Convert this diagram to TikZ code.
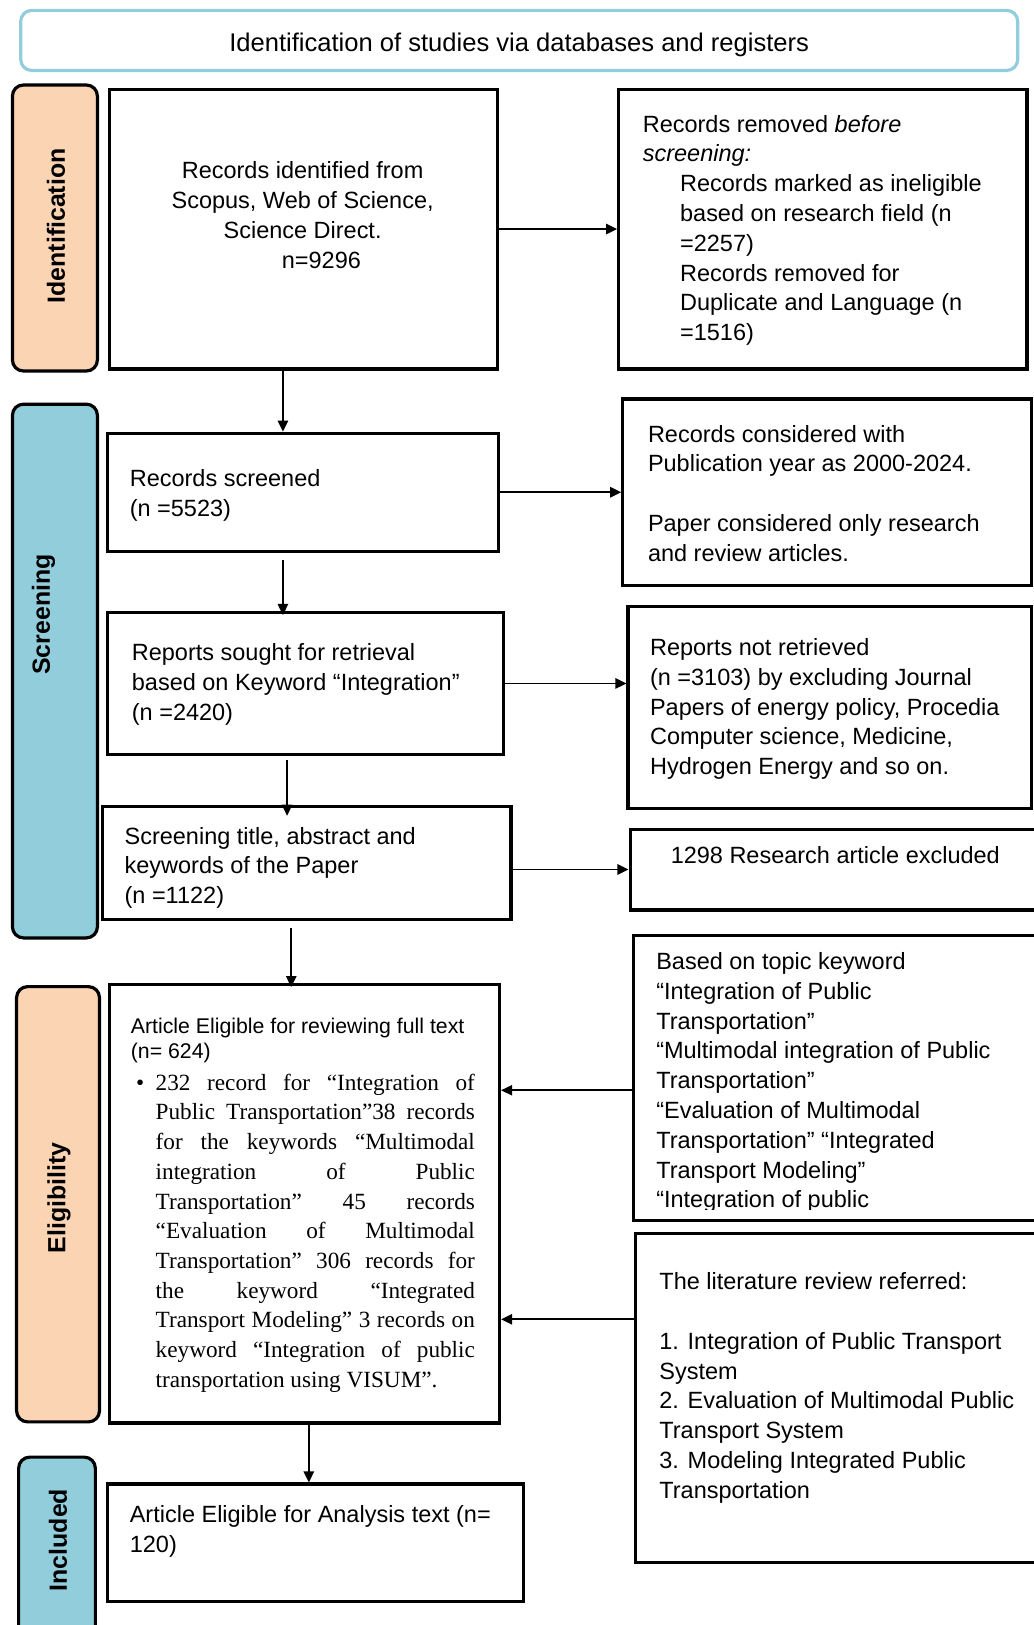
\documentclass[tikz,border=0pt]{standalone}
\usepackage{fontspec}
\setmainfont{Liberation Sans}
\newfontfamily\tnr{Liberation Serif}
\usetikzlibrary{fit,arrows.meta,calc}
\definecolor{peach}{HTML}{FBD4B4}
\definecolor{aqua}{HTML}{92CDDC}
\newcommand{\tb}[2][300pt]{\parbox[t]{#1}{\raggedright #2}}
\begin{document}
\begin{tikzpicture}[x=0.75pt,y=-0.75pt,
 box/.style={draw=black,line width=2.3pt,inner sep=0pt},
 phase/.style={draw=black,line width=2.3pt,rounded corners=8pt,inner sep=0pt},
 txt/.style={inner sep=0pt,anchor=base west,font=\fontsize{17}{21.56}\selectfont},
 ptxt/.style={inner sep=0pt,rotate=90,font=\bfseries\fontsize{18}{20}\selectfont},
 arr/.style={-{Triangle[length=8pt,width=7.5pt]},line width=1.2pt}]

\useasboundingbox (0,0) rectangle (997,1568);

% title
\node[draw=aqua,line width=2.3pt,rounded corners=8pt,inner sep=0pt,fit={(20,10)(982,68)}] (T) {};
\node[inner sep=0pt,anchor=base,font=\fontsize{18.5}{20}\selectfont] (Tt) at (501,50) {Identification of studies via databases and registers};

% phase labels
\node[phase,fill=peach,fit={(12,82)(94,358)}] (P1) {};
\node[ptxt] (P1t) at (54,218) {Identification};
\node[phase,fill=aqua,fit={(12,390)(94,905)}] (P2) {};
\node[ptxt] (P2t) at (42,593) {Screening};
\node[phase,fill=peach,fit={(16,952)(96,1372)}] (P3) {};
\node[ptxt] (P3t) at (57,1156) {Eligibility};
\node[phase,fill=aqua,fit={(18,1406)(92,1580)}] (P4) {};
\node[ptxt] (P4t) at (56,1486) {Included};

% boxes
\node[box,fit={(106,86)(480,356)}] (A) {};
\node[box,fit={(597,86)(991,356)}] (B) {};
\node[box,fit={(104,418)(481,532)}] (C) {};
\node[box,fit={(601,385)(995,565)}] (D) {};
\node[box,fit={(104,591)(486,728)}] (E) {};
\node[box,fit={(606,585)(995,780)}] (F) {};
\node[box,fit={(99,778)(493,887)}] (G) {};
\node[box,fit={(608,800)(1010,878)}] (H) {};
\node[box,fit={(106,950)(482,1373)}] (J) {};
\node[box,fit={(611,903)(1010,1178)}] (K) {};
\node[box,fit={(613,1190)(1010,1508)}] (L) {};
\node[box,fit={(104,1432)(505,1545)}] (M) {};

% texts
\node[txt,anchor=base] (At) at (292,172.5) {\parbox[t]{300pt}{\centering Records identified from\\Scopus, Web of Science,\\Science Direct.\\\hspace*{1.6em}n=9296}};
\node[txt] (Bt) at (620,127.5) {\tb{Records removed \textit{before}\\\textit{screening:}\\\hspace*{27pt}Records marked as ineligible\\\hspace*{27pt}based on research field (n\\\hspace*{27pt}=2257)\\\hspace*{27pt}Records removed for\\\hspace*{27pt}Duplicate and Language (n\\\hspace*{27pt}=1516)}};
\node[txt] (Ct) at (125,469.5) {\tb{Records screened\\(n =5523)}};
\node[txt] (Dt) at (625,426.5) {\tb{Records considered with\\Publication year as 2000-2024.\\[21.56pt]Paper considered only research\\and review articles.}};
\node[txt] (Et) at (127,637.5) {\tb{Reports sought for retrieval\\based on Keyword “Integration”\\(n =2420)}};
\node[txt] (Ft) at (627,632.5) {\tb{Reports not retrieved\\(n =3103) by excluding Journal\\Papers of energy policy, Procedia\\Computer science, Medicine,\\Hydrogen Energy and so on.}};
\node[txt] (Gt) at (120,814.5) {\tb{Screening title, abstract and\\keywords of the Paper\\(n =1122)}};
\node[txt,anchor=base] (Ht) at (806,833.5) {1298 Research article excluded};
\begin{scope}
\clip (611,903) rectangle (1010,1167);
\node[txt] (Kt) at (633,935.5) {\tb{Based on topic keyword\\“Integration of Public\\Transportation”\\“Multimodal integration of Public\\Transportation”\\“Evaluation of Multimodal\\Transportation” “Integrated\\Transport Modeling”\\“Integration of public}};
\end{scope}
\node[txt] (Lt) at (636,1244.5) {\tb{The literature review referred:\\[21.56pt]1. Integration of Public Transport\\System\\2. Evaluation of Multimodal Public\\Transport System\\3. Modeling Integrated Public\\Transportation}};
\node[txt] (Mt) at (125,1469.5) {\tb{Article Eligible for Analysis text (n=\\120)}};
\node[txt,font=\fontsize{15.4}{18}\selectfont] (Jt) at (126,997) {\tb{Article Eligible for reviewing full text\\(n= 624)}};
\node[txt,font=\tnr\fontsize{16.8}{21.5}\selectfont] (Jb) at (131,1052) {\textbullet};
\node[txt,font=\tnr\fontsize{16.8}{21.5}\selectfont] (Jl) at (150,1052) {\parbox[t]{231pt}{%
\makebox[231pt][s]{232 record for “Integration of}\\
\makebox[231pt][s]{Public Transportation”38 records}\\
\makebox[231pt][s]{for the keywords “Multimodal}\\
\makebox[231pt][s]{integration of Public}\\
\makebox[231pt][s]{Transportation” 45 records}\\
\makebox[231pt][s]{“Evaluation of Multimodal}\\
\makebox[231pt][s]{Transportation” 306 records for}\\
\makebox[231pt][s]{the keyword “Integrated}\\
\makebox[231pt][s]{Transport Modeling” 3 records on}\\
\makebox[231pt][s]{keyword “Integration of public}\\
transportation using VISUM”.}};

% connectors
\coordinate (x273) at (273,0);
\coordinate (x277) at (277,0);
\coordinate (x281) at (281,0);
\coordinate (x298) at (298,0);
\draw[arr] (A.east) -- (A.east -| B.west);
\draw[arr] (C.east) -- (C.east -| D.west);
\draw[arr] (E.east) -- (E.east -| F.west);
\draw[arr] (G.east |- H.west) -- (H.west);
\coordinate (yk) at (0,1052);
\coordinate (yl) at (0,1273);
\draw[arr] (K.west |- yk) -- (J.east |- yk);
\draw[arr] (L.west |- yl) -- (J.east |- yl);
\draw[arr] (A.south -| x273) -- (C.north -| x273);
\draw[arr,shorten <=5pt] (C.south -| x273) -- ([yshift=-3pt]E.north -| x273);
\draw[arr,shorten <=3pt] (E.south -| x277) -- ([yshift=-8pt]G.north -| x277);
\draw[arr,shorten <=5pt] (G.south -| x281) -- ([yshift=-3pt]J.north -| x281);
\draw[arr] (J.south -| x298) -- (M.north -| x298);
\end{tikzpicture}
\end{document}
